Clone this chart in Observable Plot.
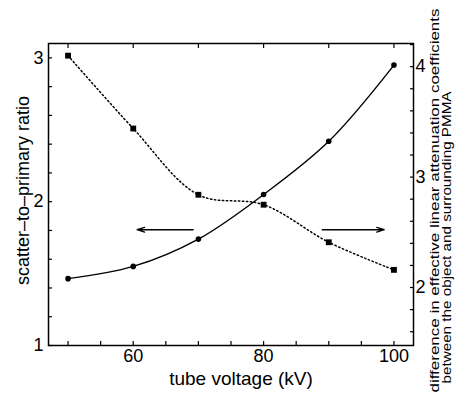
<!DOCTYPE html>
<html><head><meta charset="utf-8">
<script src="https://cdn.jsdelivr.net/npm/d3@7"></script>
<script src="https://cdn.jsdelivr.net/npm/@observablehq/plot@0.6"></script>
<style>body{margin:0;background:#fff} #chart{position:absolute;left:0;top:0}</style>
</head><body><div id="chart"></div>
<script>
// data
const voltage = [50, 60, 70, 80, 90, 100];
const scatterRatio = [1.465, 1.55, 1.74, 2.05, 2.42, 2.95];      // left axis (solid, circles)
const muDifference = [4.10, 3.44, 2.84, 2.75, 2.41, 2.16];       // right axis (dotted, squares)
// axes
const xDomain = [47, 103];
const leftDomain = [1, 3.1];
const rightDomain = [1.475, 4.21];
const xTickLabels = [60, 80, 100];
const xTicksBottom = d3.range(50, 101, 5);
const xTicksTop = d3.range(50, 101, 10);
const leftTickLabels = [1, 2, 3];
const leftTicks = d3.range(0, 11).map(i => 1 + i * 0.2);
const rightTickLabels = [2, 3, 4];
const rightTicks = d3.range(0, 14).map(i => 1.6 + i * 0.2);
// arrows (left-axis units)
const arrowX1 = [69.2, 89.0];
const arrowX2 = [60.6, 98.5];
const arrowY = [1.805, 1.805];
// text
const xLabel = "tube voltage (kV)";
const yLabel = "scatter–to–primary ratio";
const y2Label1 = "difference in effective linear attenuation coefficients";
const y2Label2 = "between the object and surrounding PMMA";

const toLeft = d3.scaleLinear(rightDomain, leftDomain);
const rows = voltage.map((v, i) => ({v, s: scatterRatio[i], m: toLeft(muDifference[i])}));
const arrows = arrowX1.map((x1, i) => ({x1, x2: arrowX2[i], y: arrowY[i]}));
const blank = () => "";

const chart = Plot.plot({
  width: 458, height: 394,
  marginLeft: 48, marginRight: 45, marginTop: 43, marginBottom: 49,
  x: {domain: xDomain},
  y: {domain: leftDomain},
  style: {fontFamily: "'Liberation Sans', Arial, sans-serif", color: "black", background: "white"},
  marks: [
    Plot.frame({stroke: "black", strokeWidth: 1.5}),
    // ticks (inward)
    Plot.axisX(xTicksBottom, {anchor: "bottom", tickSize: -4, tickFormat: blank, label: null, strokeWidth: 1.2}),
    Plot.axisX(xTicksTop, {anchor: "top", tickSize: -4, tickFormat: blank, label: null, strokeWidth: 1.2}),
    Plot.axisY(leftTicks, {anchor: "left", tickSize: -4, tickFormat: blank, label: null, strokeWidth: 1.2}),
    Plot.axisY(rightTicks.map(toLeft), {anchor: "right", tickSize: -4, tickFormat: blank, label: null, strokeWidth: 1.2}),
    // tick labels
    Plot.axisX(xTickLabels, {anchor: "bottom", tickSize: 0, tickPadding: 4, fontSize: 18, label: null, tickFormat: d => String(d)}),
    Plot.axisY(leftTickLabels, {anchor: "left", tickSize: 0, tickPadding: 5, fontSize: 18, label: null, tickFormat: d => String(d)}),
    Plot.axisY(rightTickLabels.map(toLeft), {anchor: "right", tickSize: 0, tickPadding: 2, fontSize: 18, label: null,
      tickFormat: d => String(Math.round(toLeft.invert(d)))}),
    // curves
    Plot.line(rows, {x: "v", y: "s", curve: "catmull-rom", stroke: "black", strokeWidth: 1.4}),
    Plot.line(rows, {x: "v", y: "m", curve: "catmull-rom", stroke: "black", strokeWidth: 1.5, strokeDasharray: "1.4,2.6"}),
    Plot.dot(rows, {x: "v", y: "s", r: 2.8, fill: "black", stroke: "none"}),
    Plot.dot(rows, {x: "v", y: "m", r: 3.3, symbol: "square", fill: "black", stroke: "none"}),
    // arrows
    Plot.arrow(arrows, {x1: "x1", x2: "x2", y1: "y", y2: "y", stroke: "black", strokeWidth: 1.3, headLength: 9, headAngle: 35, inset: 0}),
    // axis titles
    Plot.text([xLabel], {frameAnchor: "bottom", textAnchor: "middle", dx: 10, dy: 33, fontSize: 19, lineAnchor: "middle"}),
    Plot.text([yLabel], {frameAnchor: "left", textAnchor: "middle", rotate: -90, dx: -25, dy: -4, fontSize: 18, lineAnchor: "middle"}),
    Plot.text([y2Label1], {frameAnchor: "right", textAnchor: "middle", rotate: -90, dx: 21, dy: 6, fontSize: 13.5, lineAnchor: "middle"}),
    Plot.text([y2Label2], {frameAnchor: "right", textAnchor: "middle", rotate: -90, dx: 33, dy: 43, fontSize: 13.5, lineAnchor: "middle"})
  ]
});
// stretch the condensed right-hand title lines to their printed lengths
d3.select(chart).selectAll("text").each(function() {
  const t = this.textContent;
  if (t === y2Label1) d3.select(this).attr("textLength", 384).attr("lengthAdjust", "spacingAndGlyphs");
  if (t === y2Label2) d3.select(this).attr("textLength", 292).attr("lengthAdjust", "spacingAndGlyphs");
});
document.getElementById("chart").appendChild(chart);
</script>
</body></html>
